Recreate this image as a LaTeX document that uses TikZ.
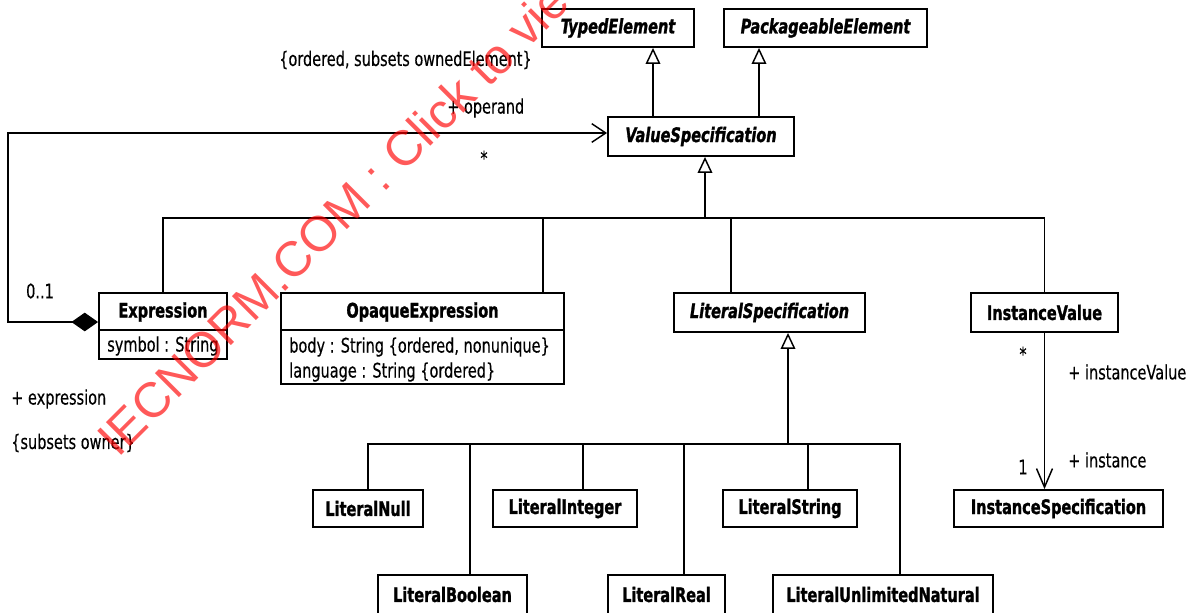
\documentclass[tikz,border=0pt]{standalone}
\usepackage{fontspec}
\setmainfont{DejaVu Sans}[FakeStretch=0.725,
  UprightFeatures={FakeBold=0.3},
  BoldFeatures={FakeBold=1.3}, BoldItalicFeatures={FakeBold=1.3}]
\newfontfamily\wmfont{Liberation Sans}
\usetikzlibrary{arrows.meta}
\newcommand\pxu{0.75pt}

\begin{document}
\begin{tikzpicture}[x=0.75pt, y=-0.75pt,
  every node/.style={inner sep=0pt, font=\fontsize{15pt}{18pt}\selectfont},
  cls/.style={draw, line width=1.4pt, fill=white, font=\fontsize{15pt}{18pt}\selectfont\bfseries},
  abstractcls/.style={cls, font=\fontsize{15pt}{18pt}\selectfont\bfseries\itshape},
  lbl/.style={font=\fontsize{15pt}{18pt}\selectfont},
  attr/.style={lbl, anchor=west},
  divider/.style={line width=1.4pt},
  conn/.style={line width=1.1pt},
  trunk/.style={line width=1.8pt},
  gen/.style={conn, -{Triangle[open, length=12pt, width=11pt, line width=1.1pt]}},
  wm/.style={font=\wmfont\fontsize{37pt}{44pt}\selectfont, text=red, text opacity=0.65}
]
\fill[white] (0,0) rectangle (1191,613);
\clip (0,0) rectangle (1191,613);

% classes
\node[abstractcls, minimum width={152*\pxu}, minimum height={38*\pxu}] (te) at (618,28) {TypedElement};
\node[abstractcls, minimum width={203*\pxu}, minimum height={38*\pxu}] (pe) at (825.5,28) {PackageableElement};
\node[abstractcls, minimum width={186*\pxu}, minimum height={39*\pxu}] (vs) at (701,136.5) {ValueSpecification};

\node[cls, minimum width={128*\pxu}, minimum height={66*\pxu}] (expr) at (163,326) {};
\node[lbl, font=\fontsize{15pt}{18pt}\selectfont\bfseries] (exprname) at (163,312) {Expression};
\draw[divider] (expr.west |- 0,330) -- (expr.east |- 0,330);
\node[attr] (exprsym) at (107,346) {symbol : String};

\node[cls, minimum width={283*\pxu}, minimum height={91*\pxu}] (oe) at (422.5,338.5) {};
\node[lbl, font=\fontsize{15pt}{18pt}\selectfont\bfseries] (oename) at (422.5,312) {OpaqueExpression};
\draw[divider] (oe.west |- 0,330) -- (oe.east |- 0,330);
\node[attr] (oebody) at (289,347) {body : String \{ordered, nonunique\}};
\node[attr] (oelang) at (289,372) {language : String \{ordered\}};

\node[abstractcls, minimum width={191*\pxu}, minimum height={39*\pxu}] (ls) at (769.5,312.5) {LiteralSpecification};
\node[cls, minimum width={147*\pxu}, minimum height={39*\pxu}] (iv) at (1044.5,312.5) {InstanceValue};
\node[cls, minimum width={209*\pxu}, minimum height={37*\pxu}] (is) at (1058.5,508.5) {InstanceSpecification};

\node[cls, minimum width={110*\pxu}, minimum height={37*\pxu}] (ln) at (368,508.5) {LiteralNull};
\node[cls, minimum width={144*\pxu}, minimum height={37*\pxu}] (li) at (565,508.5) {LiteralInteger};
\node[cls, minimum width={134*\pxu}, minimum height={37*\pxu}] (lst) at (790,508.5) {LiteralString};
\node[cls, minimum width={149*\pxu}, minimum height={39*\pxu}] (lb) at (452.5,594.5) {LiteralBoolean};
\node[cls, minimum width={117*\pxu}, minimum height={39*\pxu}] (lr) at (666.5,594.5) {LiteralReal};
\node[cls, minimum width={220*\pxu}, minimum height={39*\pxu}] (lun) at (883,594.5) {LiteralUnlimitedNatural};

% generalizations towards TypedElement and PackageableElement
\draw[gen] (vs.north -| 653,0) -- (te.south -| 653,0);
\draw[gen] (vs.north -| 759,0) -- (pe.south -| 759,0);

% subclasses of ValueSpecification
\coordinate (jvs) at (705,218);
\draw[conn, trunk] (expr.north) |- (jvs);
\draw[conn] (jvs) -| (iv.north);
\draw[conn] (oe.north -| 543,0) -- (543,218);
\draw[conn] (ls.north -| 731,0) -- (731,218);
\draw[gen, trunk] (jvs) -- (jvs |- vs.south);

% subclasses of LiteralSpecification
\coordinate (jls) at (788,444);
\draw[conn, trunk] (ln.north) |- (jls);
\draw[conn] (jls) -| (lun.north -| 900,0);
\draw[conn] (lb.north -| 470,0) -- (470,444);
\draw[conn] (li.north -| 583,0) -- (583,444);
\draw[conn] (lr.north -| 684,0) -- (684,444);
\draw[conn] (lst.north -| 808,0) -- (808,444);
\draw[gen, trunk] (jls) -- (jls |- ls.south);

% operand composition
\coordinate (opc) at (8,133);
\draw[conn, {Diamond[length=20pt, width=14pt]}-{Straight Barb[length=10.5pt, width=14pt]}]
  ([yshift=3pt]expr.west) -| (opc) -- (vs.west |- opc);

% instance association
\draw[conn, -{Straight Barb[length=14pt, width=12pt]}] (iv.south) -- (iv.south |- is.north);

% association end labels
\node[lbl] (opcons) at (405.5,60) {\{ordered, subsets ownedElement\}};
\node[lbl, anchor=west] (oprole) at (447,108) {+ operand};
\node[lbl] (opmult) at (484,158) {*};
\node[lbl] (exmult) at (40,291) {0..1};
\node[lbl, anchor=west] (exrole) at (11,399) {+ expression};
\node[lbl, anchor=west] (excons) at (11,443) {\{subsets owner\}};
\node[lbl] (ivmult) at (1023,354) {*};
\node[lbl, anchor=west] (ivrole) at (1068,372) {+ instanceValue};
\node[lbl] (ismult) at (1023,467) {1};
\node[lbl, anchor=west] (isrole) at (1068,460) {+ instance};

% watermark
\node[wm, rotate=45, anchor=base west] (wmark) at (118,459) {IECNORM.COM : Click to view the full PDF};
\end{tikzpicture}
\end{document}
